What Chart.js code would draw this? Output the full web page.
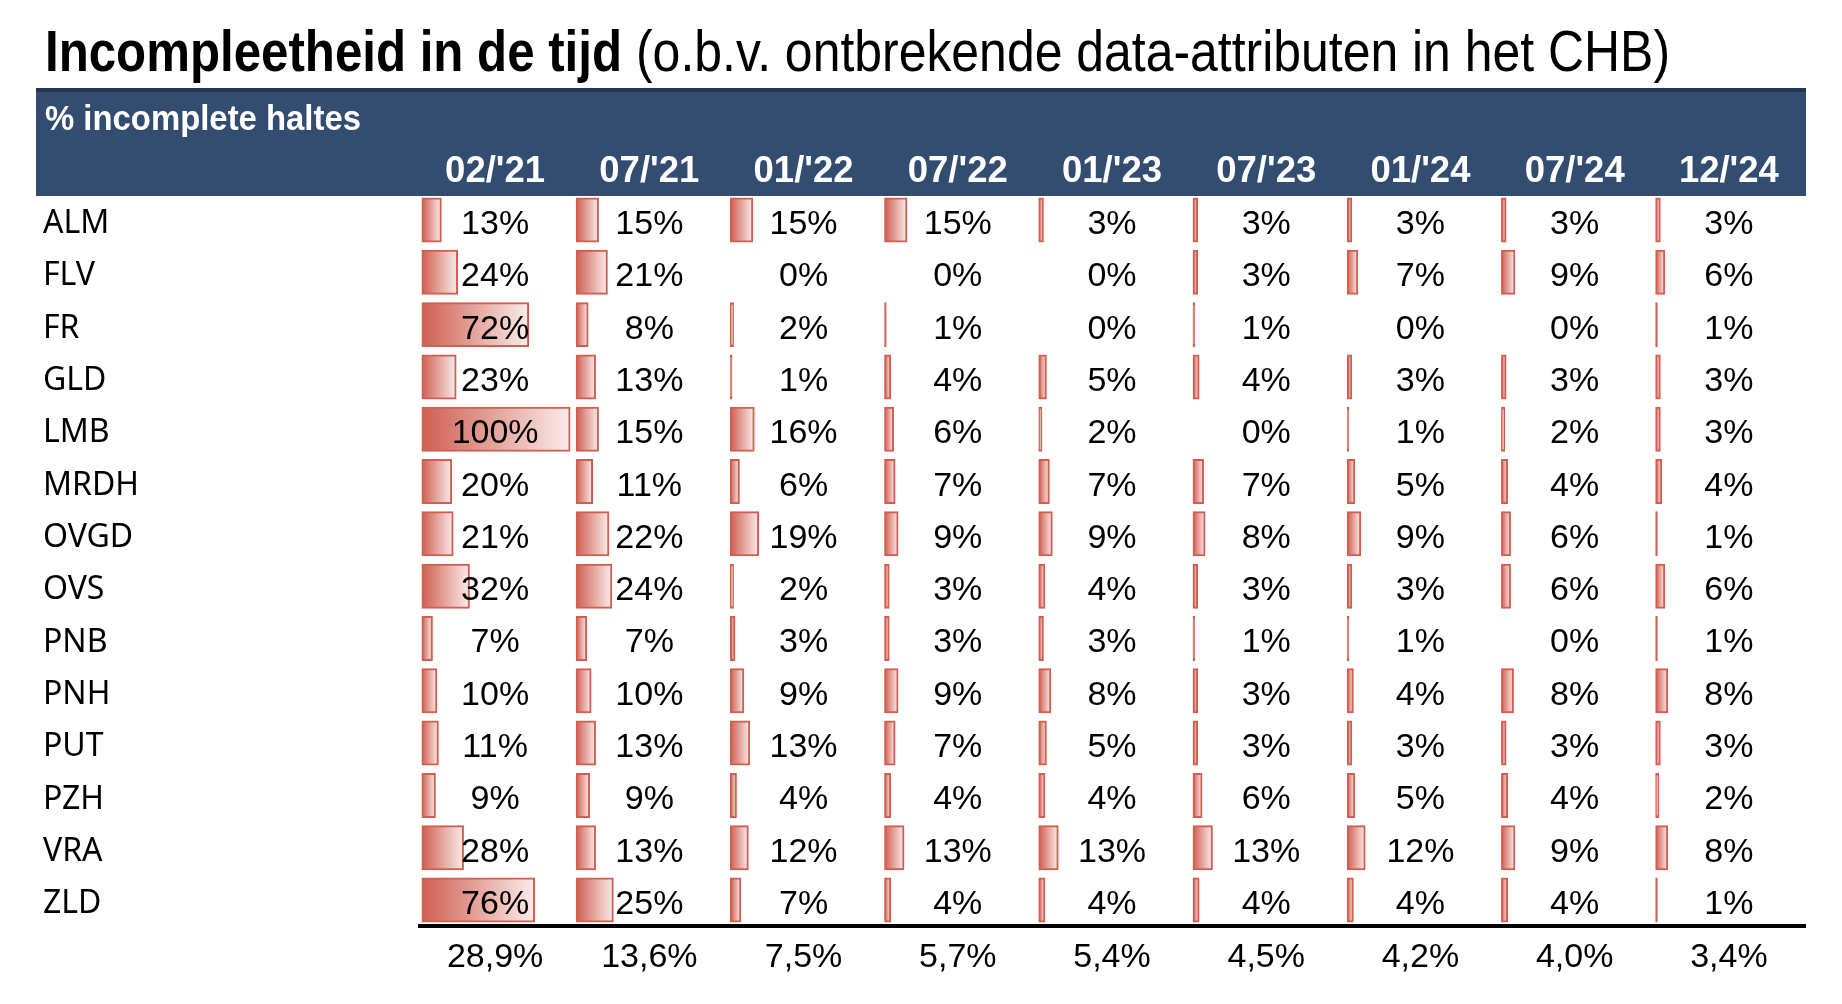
<!DOCTYPE html>
<html>
<head>
<meta charset="utf-8">
<script src="https://cdn.jsdelivr.net/npm/chart.js@4.4.1/dist/chart.umd.min.js"></script>
<style>
  html, body { margin: 0; padding: 0; background: #ffffff; }
  #c { display: block; }
</style>
</head>
<body>
<canvas id="c" width="1842" height="1004"></canvas>
<script>
// ---------- DATA ----------
const rows = ['ALM', 'FLV', 'FR', 'GLD', 'LMB', 'MRDH', 'OVGD', 'OVS', 'PNB', 'PNH', 'PUT', 'PZH', 'VRA', 'ZLD'];
const periods = ["02/'21", "07/'21", "01/'22", "07/'22", "01/'23", "07/'23", "01/'24", "07/'24", "12/'24"];

const feb21 = [13, 24, 72, 23, 100, 20, 21, 32, 7, 10, 11, 9, 28, 76];
const jul21 = [15, 21, 8, 13, 15, 11, 22, 24, 7, 10, 13, 9, 13, 25];
const jan22 = [15, 0, 2, 1, 16, 6, 19, 2, 3, 9, 13, 4, 12, 7];
const jul22 = [15, 0, 1, 4, 6, 7, 9, 3, 3, 9, 7, 4, 13, 4];
const jan23 = [3, 0, 0, 5, 2, 7, 9, 4, 3, 8, 5, 4, 13, 4];
const jul23 = [3, 3, 1, 4, 0, 7, 8, 3, 1, 3, 3, 6, 13, 4];
const jan24 = [3, 7, 0, 3, 1, 5, 9, 3, 1, 4, 3, 5, 12, 4];
const jul24 = [3, 9, 0, 3, 2, 4, 6, 6, 0, 8, 3, 4, 9, 4];
const dec24 = [3, 6, 1, 3, 3, 4, 1, 6, 1, 8, 3, 2, 8, 1];

const averages = [28.9, 13.6, 7.5, 5.7, 5.4, 4.5, 4.2, 4.0, 3.4];

const titleBold = 'Incompleetheid in de tijd';
const titleRest = '(o.b.v. ontbrekende data-attributen in het CHB)';
const headerLabel = '% incomplete haltes';

const series = [feb21, jul21, jan22, jul22, jan23, jul23, jan24, jul24, dec24];

// ---------- STYLE ----------
const RED = 'rgb(208,95,81)';
const RED_LIGHT = 'rgb(250,236,234)';
const BAND = 'rgb(50,77,112)';
const BAND_TOP = 'rgb(33,54,84)';
const NUM_FONT = '34px "Liberation Sans", Arial, sans-serif';
const HEAD_FONT = 'bold 35px "Liberation Sans", Arial, sans-serif';
const COL_FONT = 'bold 36.5px "Liberation Sans", Arial, sans-serif';
const TITLE_BOLD_FONT = 'bold 58px "Liberation Sans Narrow", "Liberation Sans", Arial, sans-serif';
const TITLE_FONT = '58px "Liberation Sans Narrow", "Liberation Sans", Arial, sans-serif';

function barGradient(ctx) {
  const chart = ctx.chart;
  const ds = chart.data.datasets[ctx.datasetIndex];
  const scale = chart.scales[ds.xAxisID];
  if (!scale || !chart.chartArea) return RED;
  const v = ctx.raw || 0;
  const x0 = scale.getPixelForValue(0);
  const x1 = scale.getPixelForValue(v);
  if (!isFinite(x0) || !isFinite(x1) || x1 - x0 < 2) return RED;
  const g = chart.ctx.createLinearGradient(x0, 0, x1, 0);
  g.addColorStop(0, RED);
  g.addColorStop(1, RED_LIGHT);
  return g;
}

const datasets = series.map((vals, i) => ({
  label: periods[i],
  data: vals,
  xAxisID: 'x' + i,
  yAxisID: 'y',
  grouped: false,
  backgroundColor: barGradient,
  borderColor: RED,
  borderWidth: 2,
  borderSkipped: false,
  inflateAmount: 0.5,
  barPercentage: 0.841,
  categoryPercentage: 1
}));

const scales = {
  y: {
    type: 'category',
    labels: rows,
    position: 'left',
    offset: true,
    grid: { display: false, drawTicks: false },
    border: { display: false },
    ticks: {
      crossAlign: 'far',
      padding: 0,
      labelOffset: 4,
      color: '#000000',
      font: { family: '"Noto Sans", "Liberation Sans", sans-serif', size: 32 }
    },
    afterFit: (s) => { s.width = 375; }
  }
};
periods.forEach((p, i) => {
  scales['x' + i] = {
    type: 'linear',
    position: 'bottom',
    stack: 'columns',
    stackWeight: 1,
    min: -2.703,
    max: 101.5,
    display: false
  };
});

const tablePlugin = {
  id: 'tableDecor',
  beforeDraw(chart) {
    const c = chart.ctx;
    const area = chart.chartArea;
    c.save();
    // title
    c.fillStyle = '#000000';
    c.textBaseline = 'alphabetic';
    c.textAlign = 'left';
    c.font = TITLE_BOLD_FONT;
    c.fillText(titleBold, 45, 71, 577);
    c.font = TITLE_FONT;
    c.fillText(titleRest, 636, 71, 1034);
    // header band
    c.fillStyle = BAND;
    c.fillRect(36, 88, area.right - 36, 108);
    c.fillStyle = BAND_TOP;
    c.fillRect(36, 88, area.right - 36, 4);
    c.fillStyle = '#ffffff';
    c.font = HEAD_FONT;
    c.fillText(headerLabel, 45, 130, 316);
    c.textAlign = 'center';
    c.font = COL_FONT;
    periods.forEach((p, i) => {
      const s = chart.scales['x' + i];
      c.fillText(p, (s.left + s.right) / 2, 182);
    });
    c.restore();
  },
  afterDatasetsDraw(chart) {
    const c = chart.ctx;
    const area = chart.chartArea;
    const y = chart.scales.y;
    c.save();
    c.fillStyle = '#000000';
    c.font = NUM_FONT;
    c.textAlign = 'center';
    c.textBaseline = 'alphabetic';
    series.forEach((vals, i) => {
      const s = chart.scales['x' + i];
      const cx = (s.left + s.right) / 2;
      vals.forEach((v, j) => {
        c.fillText(v + '%', cx, y.getPixelForValue(j) + 14);
      });
      c.fillText(averages[i].toFixed(1).replace('.', ',') + '%', cx, 967);
    });
    // bottom rule
    c.fillRect(area.left, 924, area.right - area.left, 4);
    c.restore();
  }
};

new Chart(document.getElementById('c'), {
  type: 'bar',
  data: { labels: rows, datasets },
  options: {
    indexAxis: 'y',
    responsive: false,
    devicePixelRatio: 1,
    animation: false,
    layout: { padding: { top: 193.85, bottom: 77.8, left: 43, right: 36 } },
    scales,
    plugins: {
      legend: { display: false },
      tooltip: { enabled: false },
      title: { display: false }
    }
  },
  plugins: [tablePlugin]
});
</script>
</body>
</html>
